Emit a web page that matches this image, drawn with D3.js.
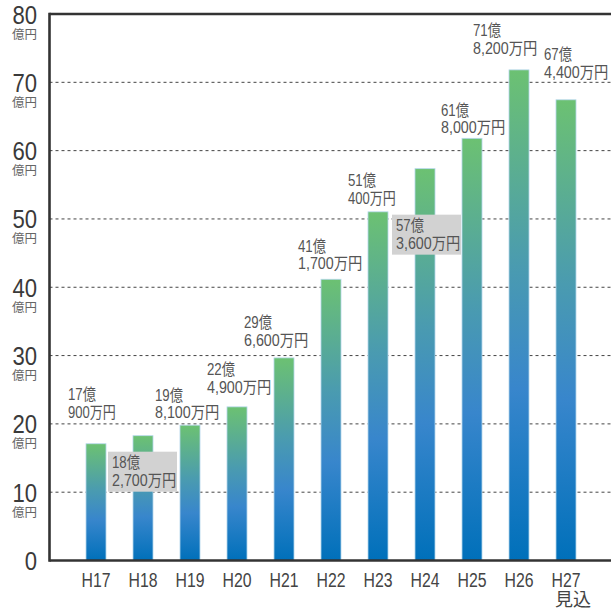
<!DOCTYPE html>
<html>
<head>
<meta charset="utf-8">
<title>予算推移</title>
<script src="https://d3js.org/d3.v7.min.js"></script>
<style>
  body { margin: 0; background: #fff; }
  svg { display: block; }
</style>
</head>
<body>
<svg id="chart" width="611" height="608"></svg>
<script>
// data (億 + 万円)
var years = ["H17","H18","H19","H20","H21","H22","H23","H24","H25","H26","H27"];
var oku  = [17, 18, 19, 22, 29, 41, 51, 57, 61, 71, 67];
var man  = [900, 2700, 8100, 4900, 6600, 1700, 400, 3600, 8000, 8200, 4400];
var yTicks = [0, 10, 20, 30, 40, 50, 60, 70, 80];
var boxed = ["H18", "H24"];

// label placement relative to bar centre / bar top (px)
var labelOffset = [[-28,-57],[-31,19],[-35,-38],[-30,-45],[-40,-43],[-33,-41],
                   [-30,-39],[-29,49],[-31,-36],[-46,-47],[-22,-53]];

var values = oku.map(function(d, i) { return d + man[i] / 10000; });

var svg = d3.select("#chart");
var mLeft = 49.5, mRight = 611, mTop = 14, mBottom = 560.5;
var narrow = "'Liberation Sans Narrow','Liberation Sans',sans-serif";

var x = d3.scaleBand().domain(years).range([72.5, 589.5])
    .paddingInner(0.574).paddingOuter(0.287);
var y = d3.scaleLinear().domain([0, 80]).range([mBottom, mTop]);

var grad = svg.append("defs").append("linearGradient")
    .attr("id", "barGrad").attr("x1", 0).attr("y1", 0).attr("x2", 0).attr("y2", 1);
grad.append("stop").attr("offset", "0%").attr("stop-color", "#6cc172");
grad.append("stop").attr("offset", "40%").attr("stop-color", "#4a9bb0");
grad.append("stop").attr("offset", "65%").attr("stop-color", "#3886cc");
grad.append("stop").attr("offset", "100%").attr("stop-color", "#0070ba");

// dashed gridlines
svg.append("g").selectAll("line")
  .data(yTicks.filter(function(t) { return t > 0 && t < 80; }))
  .enter().append("line")
  .attr("x1", mLeft).attr("x2", mRight)
  .attr("y1", function(d) { return y(d); }).attr("y2", function(d) { return y(d); })
  .attr("stroke", "#444").attr("stroke-width", 1).attr("stroke-dasharray", "3,3");

// bars
svg.append("g").selectAll("rect")
  .data(values).enter().append("rect")
  .attr("x", function(d, i) { return x(years[i]); })
  .attr("y", function(d) { return y(d); })
  .attr("width", x.bandwidth())
  .attr("height", function(d) { return mBottom - y(d); })
  .attr("fill", "url(#barGrad)")
  .attr("stroke", "#b7d8ee").attr("stroke-width", 0.8);

// frame
svg.append("line").attr("x1", mLeft).attr("x2", mLeft).attr("y1", mTop - 1.3).attr("y2", mBottom + 1.3)
  .attr("stroke", "#333").attr("stroke-width", 2.6);
svg.append("line").attr("x1", mLeft).attr("x2", mRight).attr("y1", mTop).attr("y2", mTop)
  .attr("stroke", "#333").attr("stroke-width", 2.6);
svg.append("line").attr("x1", mLeft).attr("x2", mRight).attr("y1", mBottom).attr("y2", mBottom)
  .attr("stroke", "#333").attr("stroke-width", 2.6);

// y tick labels
var yt = svg.append("g").selectAll("g").data(yTicks).enter().append("g");
yt.append("text")
  .attr("x", 37).attr("y", function(d) { return y(d) + 9.5; })
  .attr("text-anchor", "end")
  .attr("textLength", function(d) { return String(d).length * 12.3; })
  .attr("lengthAdjust", "spacingAndGlyphs")
  .style("font-family", narrow)
  .style("font-size", "26px").attr("fill", "#3a3a3a")
  .text(function(d) { return d; });
yt.filter(function(d) { return d > 0; }).append("text")
  .attr("x", 37).attr("y", function(d) { return y(d) + 24.5; })
  .attr("text-anchor", "end")
  .attr("textLength", 25)
  .attr("lengthAdjust", "spacingAndGlyphs")
  .style("font-family", "'Noto Sans CJK JP',sans-serif")
  .style("font-size", "12px").attr("fill", "#666")
  .text("億円");

// x labels
svg.append("g").selectAll("text").data(years).enter().append("text")
  .attr("x", function(d) { return x(d) + x.bandwidth() / 2 - 14.5; })
  .attr("y", 587)
  .attr("textLength", 29)
  .attr("lengthAdjust", "spacingAndGlyphs")
  .style("font-family", narrow)
  .style("font-size", "20px").attr("fill", "#444")
  .text(function(d) { return d; });
svg.append("text")
  .attr("x", x("H27") + x.bandwidth() / 2 + 7).attr("y", 605.5)
  .attr("text-anchor", "middle")
  .style("font-family", "'Noto Sans CJK JP',sans-serif")
  .style("font-size", "18px").attr("fill", "#444")
  .text("見込");

// value labels
function lineWidth(s) {
  var w = 0;
  for (var k = 0; k < s.length; k++) w += /[0-9,]/.test(s[k]) ? 8.3 : 11.4;
  return w;
}
var lab = svg.append("g").selectAll("g").data(values).enter().append("g")
  .attr("transform", function(d, i) {
    var cx = x(years[i]) + x.bandwidth() / 2;
    return "translate(" + (cx + labelOffset[i][0]) + "," + (y(d) + labelOffset[i][1]) + ")";
  });
lab.filter(function(d, i) { return boxed.indexOf(years[i]) >= 0; })
  .append("rect")
  .attr("x", -4).attr("y", -3).attr("width", 69).attr("height", 40)
  .attr("fill", "#d2d2d2");
lab.each(function(d, i) {
  var g = d3.select(this);
  var l1 = oku[i] + "億";
  var l2 = d3.format(",")(man[i]) + "万円";
  [l1, l2].forEach(function(s, j) {
    g.append("text")
      .attr("x", 0).attr("y", 13.5 + j * 17.5)
      .attr("textLength", lineWidth(s))
      .attr("lengthAdjust", "spacingAndGlyphs")
      .style("font-family", narrow + ",'Noto Sans CJK JP'")
      .style("font-size", "16px").attr("fill", "#555")
      .text(s);
  });
});
</script>
</body>
</html>
